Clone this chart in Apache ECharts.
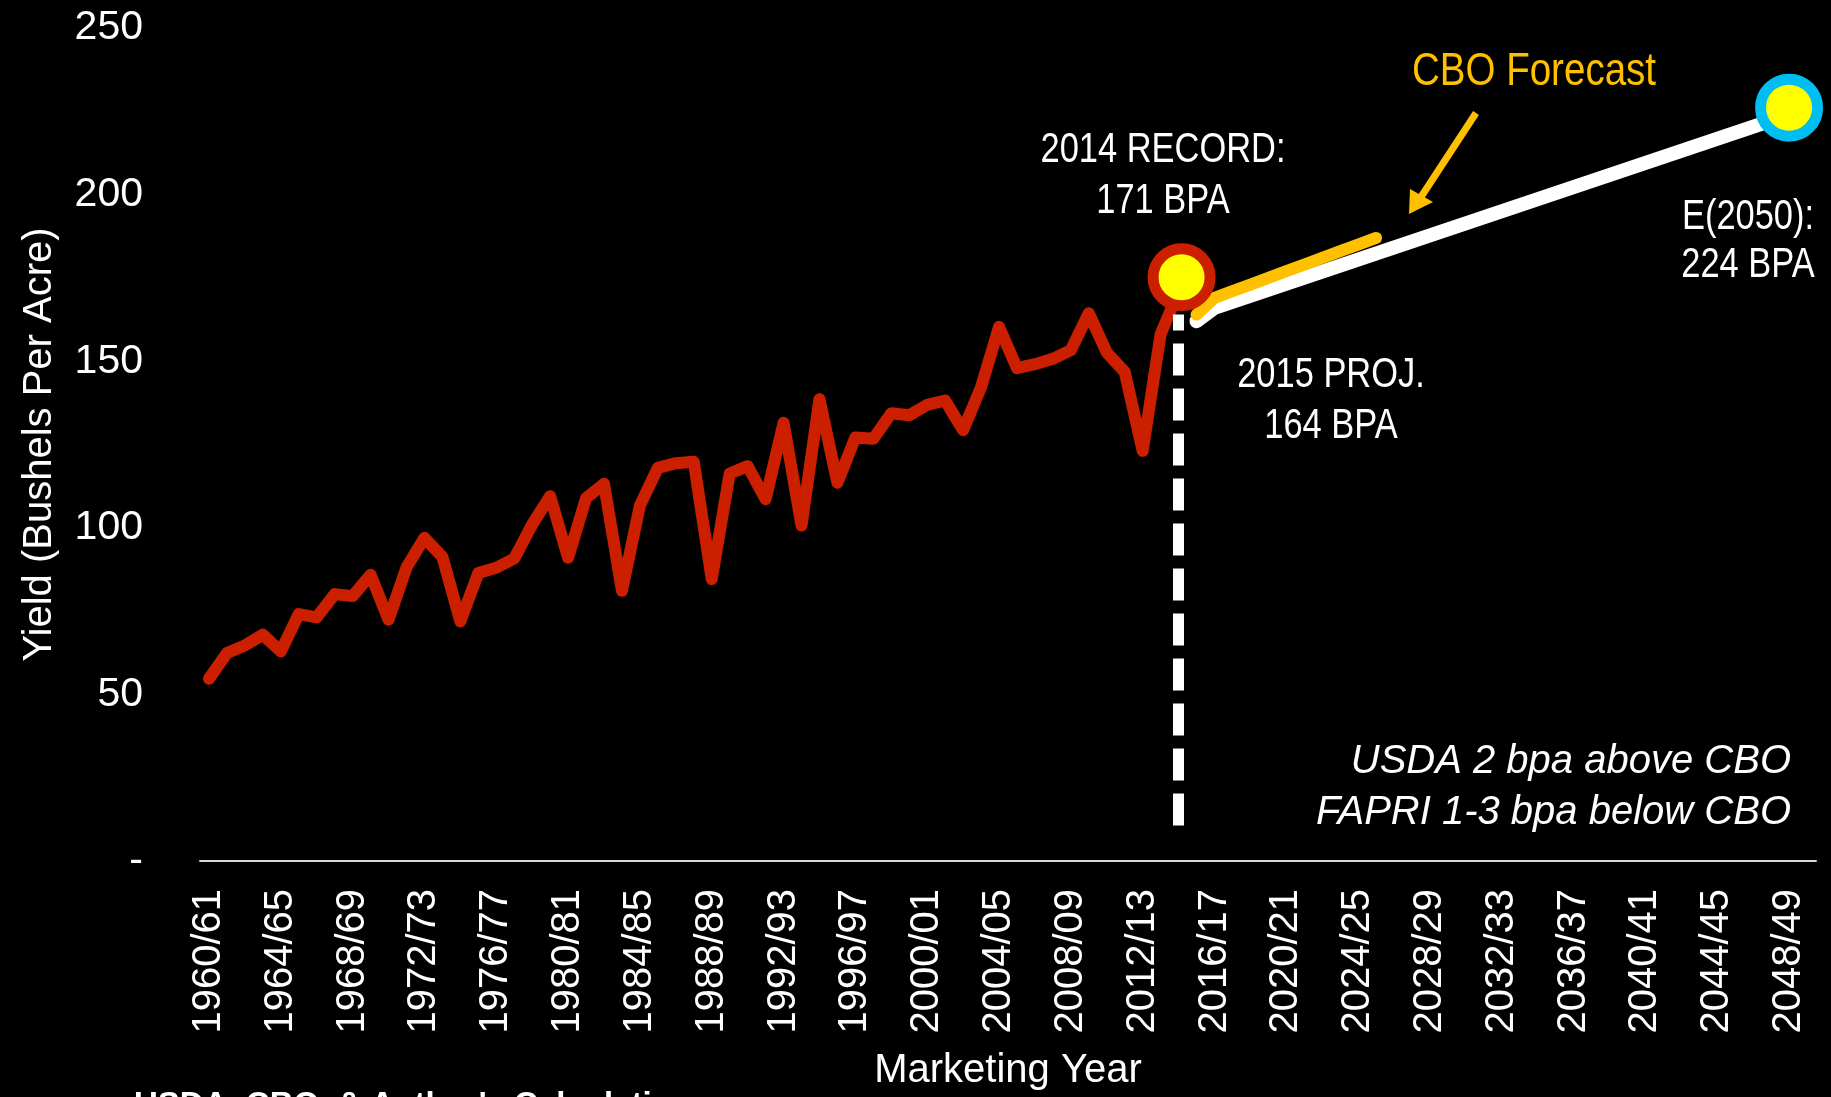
<!DOCTYPE html>
<html>
<head>
<meta charset="utf-8">
<script src="https://cdn.jsdelivr.net/npm/echarts@6/dist/echarts.min.js"></script>
<style>
	html, body { margin: 0; padding: 0; background: #000; }
	#chart { width: 1831px; height: 1097px; }
</style>
</head>
<body>
<div id="chart"></div>
<script>
// marketing years on the category axis
const firstYear = 1960
const lastYear = 2049
const years = []
for (let y = firstYear; y <= lastYear; y++) years.push(y)
const categories = years.map(y => y + '/' + String(y + 1).slice(2))

// actual yields 1960/61 - 2014/15 (bushels per acre)
const historyValues = [
	54.7, 62.4, 64.7, 67.9, 62.9, 74.1, 73.1, 80.1, 79.5, 85.9,
	72.4, 88.1, 97.0, 91.3, 71.9, 86.4, 88.0, 90.8, 101.0, 109.5,
	91.0, 108.9, 113.2, 81.1, 106.7, 118.0, 119.4, 119.8, 84.6, 116.3,
	118.5, 108.6, 131.5, 100.7, 138.6, 113.5, 127.1, 126.7, 134.4, 133.8,
	136.9, 138.2, 129.3, 142.2, 160.3, 147.9, 149.1, 150.7, 153.3, 164.4,
	152.6, 146.8, 123.1, 158.1, 171.0
]

// trend to 2050 (white)
const trendYears = [2015, 2016, 2048]
const trendValues = [162, 166, 224]

// CBO forecast (yellow)
const cboYears = [2015, 2016, 2017, 2018, 2019, 2020, 2021, 2022, 2023, 2024, 2025]
const cboValues = [164, 169, 171, 173, 175, 177, 179, 181, 183, 185, 187]

const recordYear = 2014
const recordValue = 171
const endYear = 2048
const endValue = 224
// dashed divider between actual and projected
const projYear = 2014
const projRange = [164, 7]

const sans = '"Liberation Sans", Arial, sans-serif'
// the slide uses Arial Narrow; squeeze Liberation Sans instead
const narrowScale = 0.82

function onAxis(ys, vs) {
	let arr = categories.map(() => null)
	ys.forEach((y, i) => { arr[y - firstYear] = vs[i] })
	return arr
}
function cat(y) {
	return categories[y - firstYear]
}
function note(x, y, text, size, color, lineHeight) {
	return {
		type: 'text', x: x, y: y, z: 20, scaleX: narrowScale,
		style: {
			text: text, fill: color, font: size + 'px ' + sans,
			align: 'center', verticalAlign: 'middle', lineHeight: lineHeight
		}
	}
}

let chart = echarts.init(document.getElementById('chart'))
let option = {
	backgroundColor: '#000',
	animation: false,
	grid: { left: 200, right: 15, top: 28, bottom: 236, containLabel: false, outerBoundsMode: 'none' },
	xAxis: {
		type: 'category',
		data: categories,
		boundaryGap: true,
		name: 'Marketing Year',
		nameLocation: 'middle',
		nameGap: 190,
		nameMoveOverlap: false,
		nameTextStyle: { color: '#fff', fontSize: 40, fontFamily: sans },
		axisLine: { lineStyle: { color: '#d9d9d9', width: 2 } },
		axisTick: { show: false },
		axisLabel: {
			interval: 3,
			rotate: 90,
			margin: 28,
			color: '#fff',
			fontSize: 40,
			fontFamily: sans
		},
		splitLine: { show: false }
	},
	yAxis: {
		type: 'value',
		min: 0,
		max: 250,
		interval: 50,
		name: 'Yield (Bushels Per Acre)',
		nameLocation: 'middle',
		nameGap: 140,
		nameMoveOverlap: false,
		nameTextStyle: { color: '#fff', fontSize: 40, fontFamily: sans },
		axisLine: { show: false },
		axisTick: { show: false },
		axisLabel: {
			margin: 57,
			color: '#fff',
			fontSize: 41,
			fontFamily: sans,
			formatter: v => v === 0 ? '-' : String(v)
		},
		splitLine: { show: false }
	},
	series: [
		{
			name: 'history',
			type: 'line',
			data: onAxis(years.slice(0, historyValues.length), historyValues),
			symbol: 'none',
			z: 3,
			lineStyle: { color: '#cc1f00', width: 12, cap: 'round', join: 'round' },
			markLine: {
				silent: true,
				symbol: ['none', 'none'],
				label: { show: false },
				lineStyle: { color: '#fff', width: 11, type: [32, 13], dashOffset: 16, cap: 'butt' },
				data: [[{ coord: [cat(projYear), projRange[0]] }, { coord: [cat(projYear), projRange[1]] }]]
			}
		},
		{
			name: 'trend',
			type: 'line',
			data: onAxis(trendYears, trendValues),
			connectNulls: true,
			symbol: 'none',
			z: 4,
			lineStyle: { color: '#fff', width: 14, cap: 'round', join: 'round' }
		},
		{
			name: 'cbo',
			type: 'line',
			data: onAxis(cboYears, cboValues),
			symbol: 'none',
			z: 5,
			lineStyle: { color: '#ffc000', width: 12, cap: 'round', join: 'round' }
		},
		{
			name: 'record',
			type: 'scatter',
			data: [[cat(recordYear), recordValue]],
			symbolSize: 57,
			symbolOffset: [3, -14],
			z: 10,
			itemStyle: { color: '#ffff00', borderColor: '#cc1f00', borderWidth: 11, opacity: 1 }
		},
		{
			name: 'e2050',
			type: 'scatter',
			data: [[cat(endYear), endValue]],
			symbolSize: 57,
			symbolOffset: [0, -7],
			z: 10,
			itemStyle: { color: '#ffff00', borderColor: '#00bdf2', borderWidth: 11, opacity: 1 }
		}
	],
	graphic: [
		note(1163, 176, '2014 RECORD:\n171 BPA', 42, '#fff', 51),
		note(1331, 401, '2015 PROJ.\n164 BPA', 42, '#fff', 51),
		note(1748, 241, 'E(2050):\n224 BPA', 42, '#fff', 48),
		note(1534, 72, 'CBO Forecast', 47, '#ffc000', 56),
		{
			type: 'text', x: 1791, y: 787, z: 20,
			style: {
				text: 'USDA 2 bpa above CBO\nFAPRI 1-3 bpa below CBO', fill: '#fff',
				font: 'italic 40px ' + sans, align: 'right', verticalAlign: 'middle', lineHeight: 51
			}
		},
		{
			type: 'text', x: 134, y: 1089, z: 20,
			style: {
				text: 'USDA, CBO, & Author\'s Calculations', fill: '#fff',
				font: 'bold 33px ' + sans, align: 'left', verticalAlign: 'top'
			}
		},
		{
			type: 'line', z: 20,
			shape: { x1: 1476, y1: 113, x2: 1421, y2: 197 },
			style: { stroke: '#ffc000', lineWidth: 7 }
		},
		{
			type: 'polygon', z: 20,
			shape: { points: [[1409, 214], [1410, 189], [1433, 202]] },
			style: { fill: '#ffc000' }
		}
	]
}
chart.setOption(option)
</script>
</body>
</html>
